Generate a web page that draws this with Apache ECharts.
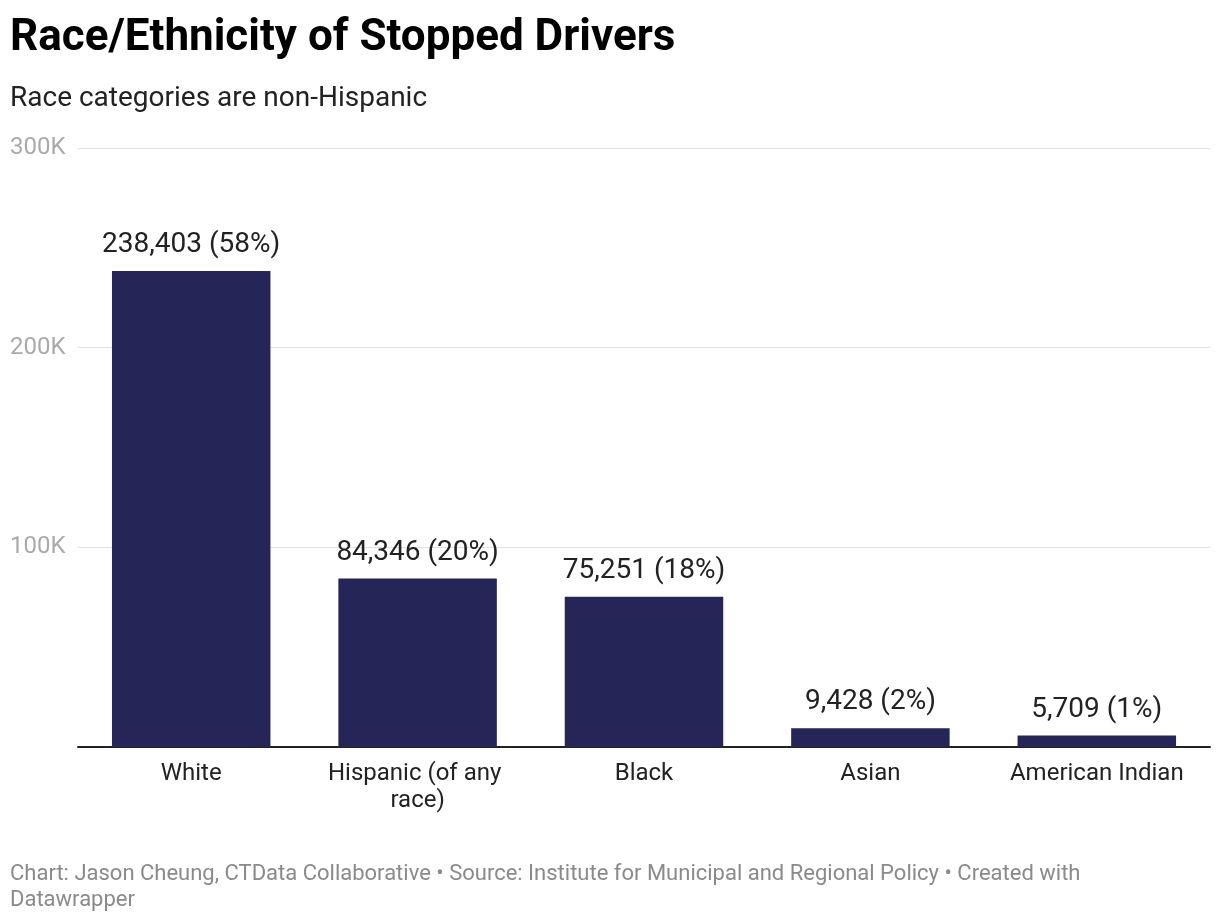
<!DOCTYPE html>
<html>
<head>
<meta charset="utf-8">
<script src="https://cdn.jsdelivr.net/npm/echarts@6/dist/echarts.min.js"></script>
<style>html,body{margin:0;padding:0;background:#fff}#main{width:1220px;height:922px}</style>
</head>
<body>
<div id="main"></div>
<script>
const categories = ["White", "Hispanic (of any race)", "Black", "Asian", "American Indian"];
const stops = [238403, 84346, 75251, 9428, 5709];
const shares = ["58%", "20%", "18%", "2%", "1%"];
const yTicks = [0, 100000, 200000, 300000];
const yTickLabels = ["", "100K", "200K", "300K"];

const chart = echarts.init(document.getElementById('main'), null, {renderer: 'canvas'});
const font = 'Roboto, "Noto Sans", sans-serif';
chart.setOption({
  animation: false,
  backgroundColor: '#fff',
  title: [
    {text: 'Race/Ethnicity of Stopped Drivers', left: 5, top: 12,
     textStyle: {fontFamily: font, fontSize: 44, fontWeight: 'bold', color: '#000'}},
    {text: 'Race categories are non-Hispanic', left: 5, top: 80,
     textStyle: {fontFamily: font, fontSize: 28, fontWeight: 'normal', color: '#222'}},
    {text: 'Chart: Jason Cheung, CTData Collaborative • Source: Institute for Municipal and Regional Policy • Created with\nDatawrapper',
     left: 5, top: 856,
     textStyle: {fontFamily: font, fontSize: 22, fontWeight: 'normal', color: '#8a8a8a', lineHeight: 26}}
  ],
  grid: {left: 78, right: 10, top: 148, bottom: 175, containLabel: false},
  xAxis: {
    type: 'category', data: categories,
    axisLine: {show: true, lineStyle: {color: '#222', width: 2}},
    axisTick: {show: false},
    axisLabel: {fontFamily: font, fontSize: 24, color: '#222', margin: 13, interval: 0,
                width: 200, overflow: 'break', lineHeight: 27}
  },
  yAxis: {
    type: 'value', min: 0, max: 300000, interval: 100000,
    axisLine: {show: false}, axisTick: {show: false},
    splitLine: {lineStyle: {color: '#e0e0e0', width: 1}},
    axisLabel: {fontFamily: font, fontSize: 24, color: '#aaa', align: 'left', margin: 68,
                padding: [4, 0, 0, 0],
                formatter: v => yTickLabels[yTicks.indexOf(v)] || ''}
  },
  series: [{
    type: 'bar', data: stops, barWidth: '70%',
    itemStyle: {color: '#252657'},
    label: {show: true, position: 'top', distance: 12, fontFamily: font, fontSize: 28, color: '#222',
            formatter: p => p.value.toLocaleString('en-US') + ' (' + shares[p.dataIndex] + ')'}
  }]
});
</script>
</body>
</html>
